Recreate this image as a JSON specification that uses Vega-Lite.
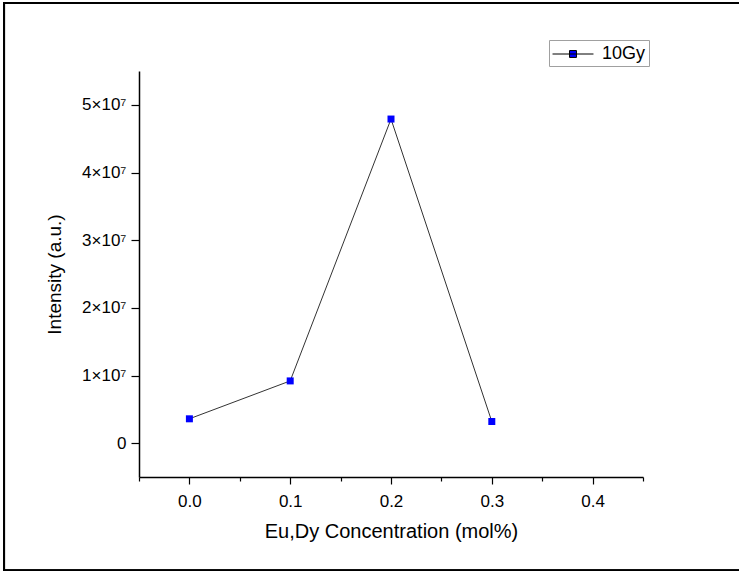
{
  "$schema": "https://vega.github.io/schema/vega-lite/v6.json",
  "width": 504,
  "height": 406,
  "autosize": {"type": "none"},
  "padding": {"left": 139, "top": 71, "right": 96, "bottom": 94},
  "background": "white",
  "config": {
    "view": {"stroke": null},
    "font": "Liberation Sans",
    "axis": {
      "labelFont": "Liberation Sans",
      "titleFont": "Liberation Sans",
      "labelColor": "black",
      "titleColor": "black",
      "titleFontWeight": "normal",
      "domainColor": "black",
      "domainWidth": 1.5,
      "tickColor": "black",
      "tickWidth": 1.2,
      "grid": false,
      "labelFontSize": 17
    }
  },
  "data": {
    "values": [
      {"conc": 0.0, "intensity": 3600000, "series": "10Gy"},
      {"conc": 0.1, "intensity": 9200000, "series": "10Gy"},
      {"conc": 0.2, "intensity": 47900000, "series": "10Gy"},
      {"conc": 0.3, "intensity": 3200000, "series": "10Gy"}
    ]
  },
  "layer": [
    {
      "mark": {"type": "rect", "filled": false, "stroke": "black", "strokeWidth": 2, "clip": false},
      "encoding": {
        "x": {"datum": -0.1839, "type": "quantitative"},
        "x2": {"datum": 0.5472},
        "y": {"datum": 65050000, "type": "quantitative"},
        "y2": {"datum": -18818000}
      }
    },
    {
      "mark": {"type": "line", "color": "#333333", "strokeWidth": 1},
      "encoding": {
        "x": {
          "field": "conc",
          "type": "quantitative",
          "scale": {"domain": [-0.05, 0.45], "nice": false, "zero": false},
          "axis": {
            "title": "Eu,Dy Concentration (mol%)",
            "titleFontSize": 20,
            "titlePadding": 12,
            "values": [-0.05, 0, 0.05, 0.1, 0.15, 0.2, 0.25, 0.3, 0.35, 0.4, 0.45],
            "labelExpr": "abs(datum.value*10 - round(datum.value*10)) < 0.01 ? format(datum.value, '.1f') : ''",
            "tickSize": {"condition": {"test": "abs(datum.value*10 - round(datum.value*10)) < 0.01", "value": 7}, "value": 4},
            "labelPadding": 9
          }
        },
        "y": {
          "field": "intensity",
          "type": "quantitative",
          "scale": {"domain": [-5000000, 55000000], "nice": false, "zero": false},
          "axis": {
            "title": "Intensity (a.u.)",
            "titleFontSize": 19,
            "titlePadding": 17,
            "values": [0, 5000000, 10000000, 15000000, 20000000, 25000000, 30000000, 35000000, 40000000, 45000000, 50000000, 55000000],
            "labelExpr": "datum.value == 0 ? '0' : (datum.value % 10000000 == 0 ? (datum.value/10000000) + '×10⁷' : '')",
            "tickSize": {"condition": {"test": "datum.value % 10000000 == 0", "value": 8}, "value": 4},
            "labelPadding": 5
          }
        }
      }
    },
    {
      "mark": {"type": "point", "shape": "square", "filled": true, "size": 49, "opacity": 1},
      "encoding": {
        "x": {"field": "conc", "type": "quantitative"},
        "y": {"field": "intensity", "type": "quantitative"},
        "fill": {
          "field": "series",
          "type": "nominal",
          "scale": {"range": ["#0000ff"]},
          "legend": {
            "title": null,
            "orient": "none",
            "legendX": 410,
            "legendY": -31,
            "strokeColor": "#a0a0a0",
            "padding": 3,
            "labelFont": "Liberation Sans",
            "labelFontSize": 18,
            "labelColor": "black",
            "symbolType": "M-1.95,0H1.95M-0.33,-0.33H0.33V0.33H-0.33Z",
            "symbolSize": 441,
            "symbolOffset": 10,
            "labelOffset": 18,
            "symbolStrokeColor": "black",
            "symbolStrokeWidth": 1,
            "encode": {
              "symbols": {"update": {"stroke": {"value": "black"}, "strokeWidth": {"value": 1}, "fill": {"value": "#0000ff"}, "opacity": {"value": 1}}}
            }
          }
        }
      }
    }
  ]
}
